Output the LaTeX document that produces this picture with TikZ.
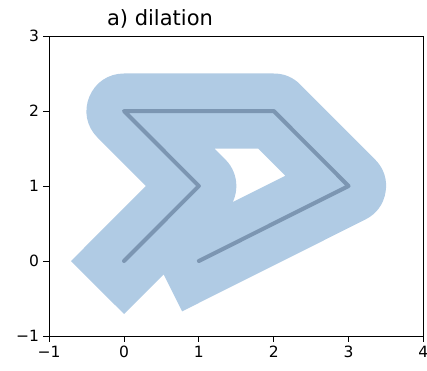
\documentclass[tikz,border=0pt]{standalone}
\usepackage{fontspec}
\setmainfont{DejaVu Sans}
\begin{document}
\begin{tikzpicture}[x=1pt,y=1pt,
  ticklab/.style={font=\fontsize{15.5}{16}\selectfont, inner sep=0pt},
  tickmark/.style={line width=0.9pt, black}]
\useasboundingbox (0,0) rectangle (427,370);
\definecolor{bufc}{RGB}{176,203,228}
\definecolor{lnc}{RGB}{124,150,178}
\node[font=\fontsize{21}{24}\selectfont, inner sep=0pt] (title) at (160,351) {a) dilation};
\begin{scope}[shift={(124,109)}, x=74.85pt, y=75pt]
  \coordinate (p0) at (0,0);
  \coordinate (p1) at (1,1);
  \coordinate (p2) at (0,2);
  \coordinate (p3) at (2,2);
  \coordinate (p4) at (3,1);
  \coordinate (p5) at (1,0);
  \draw[bufc, line width=75pt, line cap=rect, line join=round]
    (p0) -- (p1) -- (p2) -- (p3) -- (p4) -- (p5);
  \draw[lnc, line width=4pt, line cap=round, line join=round]
    (p0) -- (p1) -- (p2) -- (p3) -- (p4) -- (p5);
  \draw[line width=0.9pt, black] (-1,-1) rectangle (4,3);
  \foreach \x/\t in {-1/−1,0/0,1/1,2/2,3/3,4/4}{
    \draw[tickmark] (\x,-1) -- ++(0,-6pt);
    \node[ticklab, anchor=north] (xl\x) at ([yshift=-10pt]\x,-1) {\t};
  }
  \foreach \y/\t in {-1/−1,0/0,1/1,2/2,3/3}{
    \draw[tickmark] (-1,\y) -- ++(-6pt,0);
    \node[ticklab, anchor=east] (yl\y) at ([xshift=-10pt]-1,\y) {\t};
  }
\end{scope}
\end{tikzpicture}
\end{document}
